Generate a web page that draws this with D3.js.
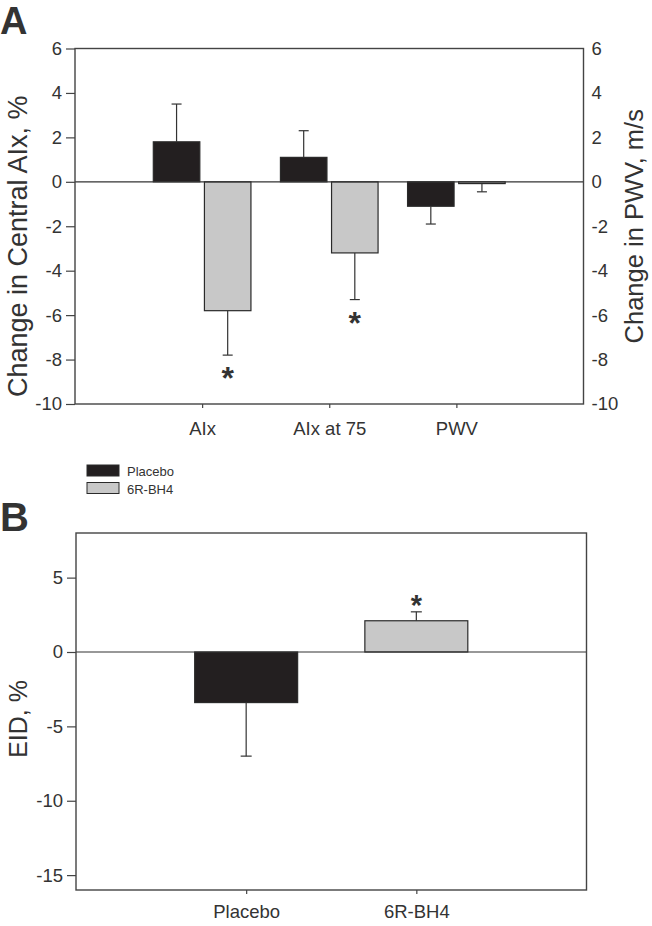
<!DOCTYPE html>
<html>
<head>
<meta charset="utf-8">
<script src="https://cdn.jsdelivr.net/npm/d3@7/dist/d3.min.js"></script>
<style>
  html, body { margin: 0; padding: 0; background: #fff; }
  svg { display: block; }
  text { font-family: "Liberation Sans", Arial, Helvetica, sans-serif; fill: #333; }
</style>
</head>
<body>
<svg id="chart" width="652" height="926"></svg>
<script>
// ---------- Data ----------
const seriesNames = ["Placebo", "6R-BH4"];
const seriesColors = ["#231f20", "#c8c8c8"];

// Panel A
const categoriesA = ["AIx", "AIx at 75", "PWV"];
const placeboA = [1.8, 1.1, -1.1];
const placeboErrA = [1.7, 1.2, 0.8];
const bh4A = [-5.8, -3.2, -0.08];
const bh4ErrA = [2.0, 2.1, 0.37];
const placeboSigA = [false, false, false];
const bh4SigA = [true, true, false];
const yTicksA = [-10, -8, -6, -4, -2, 0, 2, 4, 6];

// Panel B
const categoriesB = ["Placebo", "6R-BH4"];
const valuesB = [-3.4, 2.1];
const errB = [3.6, 0.6];
const sigB = [false, true];
const yTicksB = [-15, -10, -5, 0, 5];

// ---------- Drawing ----------
const svg = d3.select("#chart");
const lineColor = "#444";
const fmt = d => String(d);
const tickFont = 18.5;

function styleAxis(g) {
  g.select(".domain").remove();
  g.selectAll("line").attr("stroke", lineColor).attr("stroke-width", 1.2);
  g.selectAll("text").attr("fill", "#333");
}

function drawErrorBar(g, cx, y, v, err, capW) {
  const end = v + Math.sign(v) * err;
  g.append("line")
    .attr("x1", cx).attr("x2", cx)
    .attr("y1", y(v)).attr("y2", y(end))
    .attr("stroke", "#333").attr("stroke-width", 1.2);
  g.append("line")
    .attr("x1", cx - capW / 2).attr("x2", cx + capW / 2)
    .attr("y1", y(end)).attr("y2", y(end))
    .attr("stroke", "#333").attr("stroke-width", 1.2);
  return end;
}

function drawStar(g, cx, y, v, end, fs, gap) {
  let baseline;
  if (v < 0) {
    const top = y(end) + gap;
    baseline = top + 0.72 * fs;
  } else {
    const bottom = y(end) - gap;
    baseline = bottom + 0.42 * fs;
  }
  g.append("text")
    .attr("x", cx).attr("y", baseline)
    .attr("text-anchor", "middle")
    .attr("font-size", fs).attr("font-weight", "bold")
    .attr("fill", "#222")
    .text("*");
}

// ===== Panel A =====
const A = { left: 75, right: 583.5, top: 48.5, bottom: 404 };
const yA = d3.scaleLinear().domain([-10, 6]).range([A.bottom, A.top]);
const xA = d3.scaleBand().domain(categoriesA).range([A.left, A.right])
  .paddingInner(0.232).paddingOuter(0.616);
const xAInner = d3.scaleBand().domain(seriesNames).range([0, xA.bandwidth()]).paddingInner(0.09);

const gA = svg.append("g");

const seriesA = [
  { name: seriesNames[0], vals: placeboA, errs: placeboErrA, sig: placeboSigA, color: seriesColors[0] },
  { name: seriesNames[1], vals: bh4A, errs: bh4ErrA, sig: bh4SigA, color: seriesColors[1] }
];
seriesA.forEach(s => {
  categoriesA.forEach((c, i) => {
    const v = s.vals[i];
    const x0 = xA(c) + xAInner(s.name);
    const w = xAInner.bandwidth();
    gA.append("rect")
      .attr("x", x0).attr("width", w)
      .attr("y", Math.min(yA(v), yA(0)))
      .attr("height", Math.abs(yA(v) - yA(0)))
      .attr("fill", s.color)
      .attr("stroke", "#2a2a2a").attr("stroke-width", 1.2);
    const cx = x0 + w / 2;
    const end = drawErrorBar(gA, cx, yA, v, s.errs[i], 10);
    if (s.sig[i]) drawStar(gA, cx, yA, v, end, 32, 11);
  });
});

gA.append("line")
  .attr("x1", A.left).attr("x2", A.right)
  .attr("y1", yA(0)).attr("y2", yA(0))
  .attr("stroke", "#333").attr("stroke-width", 1.2);

gA.append("rect")
  .attr("x", A.left).attr("y", A.top)
  .attr("width", A.right - A.left).attr("height", A.bottom - A.top)
  .attr("fill", "none").attr("stroke", lineColor).attr("stroke-width", 1.4);

gA.append("g")
  .attr("transform", `translate(${A.left},0)`)
  .call(d3.axisLeft(yA).tickValues(yTicksA).tickSize(9).tickPadding(4).tickFormat(fmt))
  .call(styleAxis)
  .selectAll("text").attr("font-size", tickFont).attr("font-family", "Liberation Sans, Arial, sans-serif");

gA.append("g")
  .attr("transform", `translate(${A.right},0)`)
  .call(d3.axisRight(yA).tickValues(yTicksA).tickSize(0).tickPadding(8).tickFormat(fmt))
  .call(styleAxis)
  .selectAll("text").attr("font-size", tickFont).attr("font-family", "Liberation Sans, Arial, sans-serif");

gA.append("g")
  .attr("transform", `translate(0,${A.bottom})`)
  .call(d3.axisBottom(d3.scalePoint().domain(categoriesA)
        .range([xA(categoriesA[0]) + xA.bandwidth() / 2, xA(categoriesA[2]) + xA.bandwidth() / 2]))
        .tickSize(4).tickPadding(14))
  .call(styleAxis)
  .selectAll("text").attr("font-size", 18.5).attr("font-family", "Liberation Sans, Arial, sans-serif");

gA.append("text")
  .attr("transform", `translate(27,${(A.top + A.bottom) / 2 + 20}) rotate(-90)`)
  .attr("text-anchor", "middle").attr("font-size", 27)
  .text("Change in Central AIx, %");
gA.append("text")
  .attr("transform", `translate(643,${(A.top + A.bottom) / 2}) rotate(-90)`)
  .attr("text-anchor", "middle").attr("font-size", 25.5)
  .text("Change in PWV, m/s");

svg.append("text").attr("x", 0).attr("y", 34)
  .attr("font-size", 38).attr("font-weight", "bold").attr("fill", "#111").text("A");

// ===== Legend =====
const legend = svg.append("g");
seriesNames.forEach((n, i) => {
  legend.append("rect")
    .attr("x", 87).attr("y", 465 + i * 17.5)
    .attr("width", 32).attr("height", 11)
    .attr("fill", seriesColors[i]).attr("stroke", "#2a2a2a").attr("stroke-width", 1);
  legend.append("text")
    .attr("x", 127).attr("y", 476 + i * 17.5)
    .attr("font-size", 13).text(n);
});

// ===== Panel B =====
const B = { left: 76, right: 586.5, top: 533, bottom: 890 };
const yB = d3.scaleLinear().domain([-16, 8]).range([B.bottom, B.top]);
const xB = d3.scaleBand().domain(categoriesB).range([B.left, B.right])
  .paddingInner(0.395).paddingOuter(0.6975);

const gB = svg.append("g");
categoriesB.forEach((c, i) => {
  const v = valuesB[i];
  const x0 = xB(c);
  const w = xB.bandwidth();
  gB.append("rect")
    .attr("x", x0).attr("width", w)
    .attr("y", Math.min(yB(v), yB(0)))
    .attr("height", Math.abs(yB(v) - yB(0)))
    .attr("fill", seriesColors[i])
    .attr("stroke", "#2a2a2a").attr("stroke-width", 1.2);
  const cx = x0 + w / 2;
  const end = drawErrorBar(gB, cx, yB, v, errB[i], 11);
  if (sigB[i]) drawStar(gB, cx, yB, v, end, 29, 9);
});

gB.append("line")
  .attr("x1", B.left).attr("x2", B.right)
  .attr("y1", yB(0)).attr("y2", yB(0))
  .attr("stroke", "#333").attr("stroke-width", 1.2);

gB.append("rect")
  .attr("x", B.left).attr("y", B.top)
  .attr("width", B.right - B.left).attr("height", B.bottom - B.top)
  .attr("fill", "none").attr("stroke", lineColor).attr("stroke-width", 1.4);

gB.append("g")
  .attr("transform", `translate(${B.left},0)`)
  .call(d3.axisLeft(yB).tickValues(yTicksB).tickSize(9).tickPadding(4).tickFormat(fmt))
  .call(styleAxis)
  .selectAll("text").attr("font-size", tickFont).attr("font-family", "Liberation Sans, Arial, sans-serif");

gB.append("g")
  .attr("transform", `translate(0,${B.bottom})`)
  .call(d3.axisBottom(d3.scalePoint().domain(categoriesB)
        .range([xB(categoriesB[0]) + xB.bandwidth() / 2, xB(categoriesB[1]) + xB.bandwidth() / 2]))
        .tickSize(4).tickPadding(11))
  .call(styleAxis)
  .selectAll("text").attr("font-size", 18.5).attr("font-family", "Liberation Sans, Arial, sans-serif");

gB.append("text")
  .attr("transform", `translate(27,${yB(-4.5)}) rotate(-90)`)
  .attr("text-anchor", "middle").attr("font-size", 25)
  .text("EID, %");

svg.append("text").attr("x", 0).attr("y", 531)
  .attr("font-size", 40).attr("font-weight", "bold").attr("fill", "#111").text("B");
</script>
</body>
</html>
